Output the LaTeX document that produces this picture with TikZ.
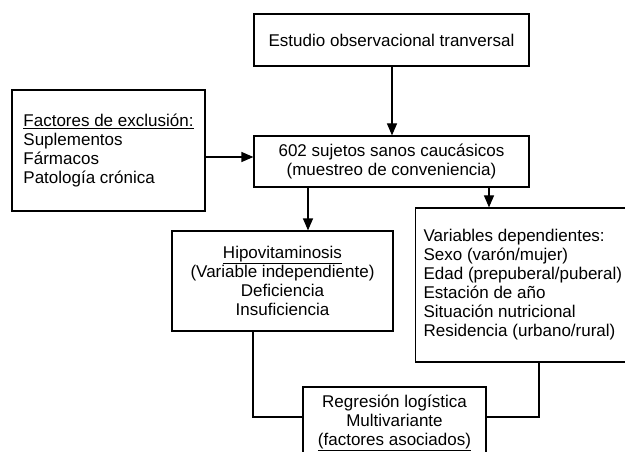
\documentclass[tikz,border=0pt]{standalone}
\usepackage{fontspec}
\setmainfont{Liberation Sans}
\usetikzlibrary{arrows.meta}
\begin{document}
\begin{tikzpicture}[>={Triangle[width=10pt,length=12pt]}, x=1pt, y=-1pt,
    box/.style={draw, line width=1.2pt, inner sep=0pt, font=\fontsize{17}{19}\selectfont},
    link/.style={line width=1.2pt}]
    \useasboundingbox (0,0) rectangle (625,452);
    \clip (0,0) rectangle (625,452);
    \node[box, minimum width=275pt, minimum height=52pt] (estudio) at (391.5,40) {Estudio observacional tranversal};
    \node[box, align=center, minimum width=275pt, minimum height=51pt] (sujetos) at (391.5,161.5) {602 sujetos sanos caucásicos\\(muestreo de conveniencia)};
    \node[box, align=left, minimum width=193pt, minimum height=121pt] (excl) at (108.5,150.5) {\underline{Factores de exclusión:}\\Suplementos\\Fármacos\\Patología crónica};
    \node[box, align=center, minimum width=221pt, minimum height=100pt] (hipo) at (282.5,281) {\underline{Hipovitaminosis}\\(Variable independiente)\\Deficiencia\\Insuficiencia};
    \node[box, align=left, anchor=west, inner xsep=8pt, minimum height=154pt] (vars) at (415,285) {Variables dependientes:\\Sexo (varón/mujer)\\Edad (prepuberal/puberal)\\Estación de año\\Situación nutricional\\Residencia (urbano/rural)};
    \node[box, align=center, minimum width=183pt, minimum height=72pt] (regr) at (394.5,423) {Regresión logística\\Multivariante\\\underline{(factores asociados)}};
    % flechas
    \draw[link,->] (estudio.south -| 392,0) -- (sujetos.north -| 392,0);
    \draw[link,->] (excl.east |- 0,157) -- (sujetos.west |- 0,157);
    \draw[link,->] (sujetos.south -| 308,0) -- (hipo.north -| 308,0);
    \draw[link,->] (sujetos.south -| 489,0) -- (vars.north -| 489,0);
    \draw[link] (hipo.south -| 253,0) |- (regr.west |- 0,417);
    \draw[link] (vars.south -| 539,0) |- (regr.east |- 0,417);
\end{tikzpicture}
\end{document}
